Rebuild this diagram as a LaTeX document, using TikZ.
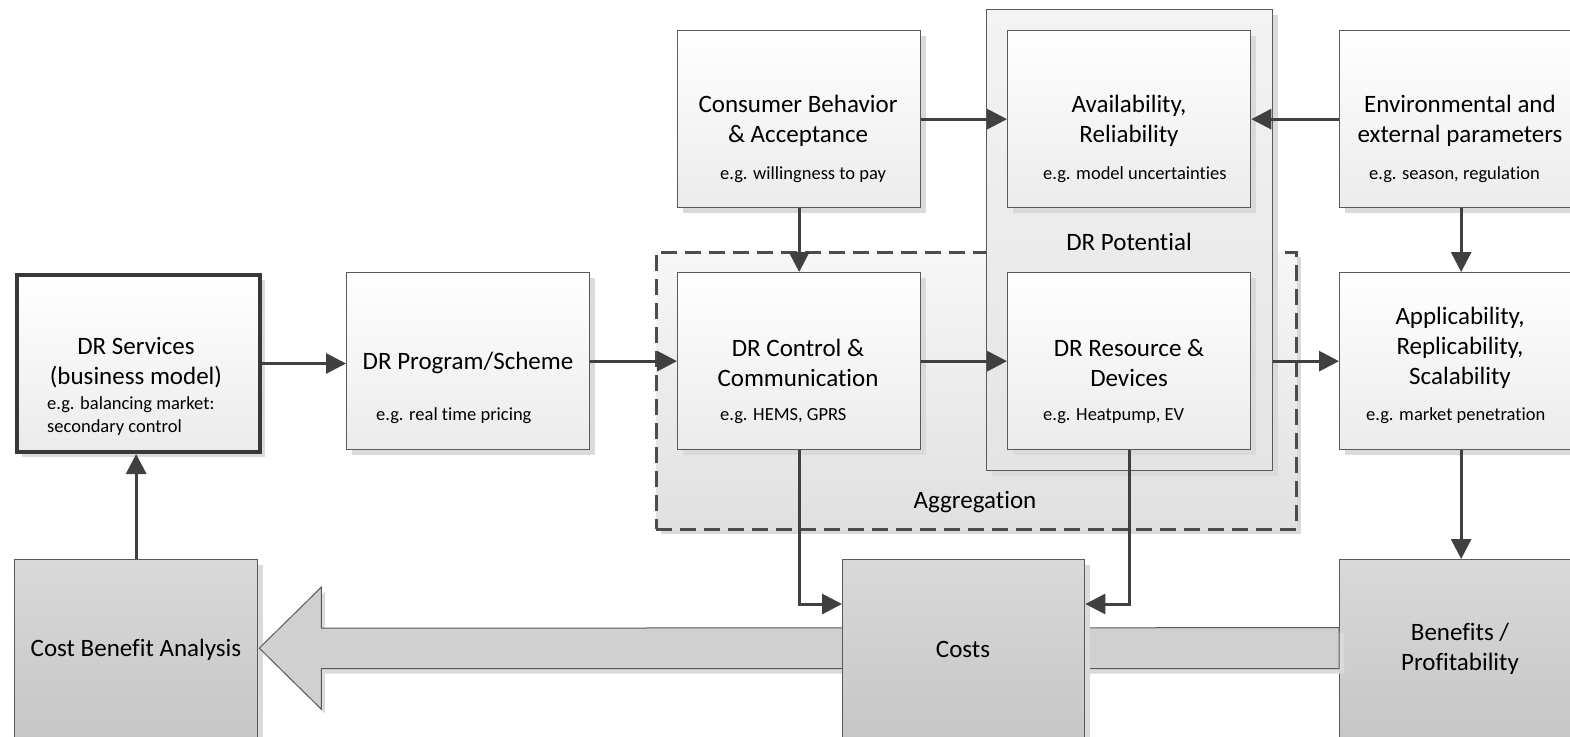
\documentclass[tikz,border=0pt]{standalone}
\usepackage{fontspec}
\setmainfont{Carlito}[Ligatures=NoCommon]
\usetikzlibrary{shadows,calc,arrows.meta}
\definecolor{bordc}{HTML}{5A5A5A}
\definecolor{arrc}{HTML}{404040}
\definecolor{boxbot}{HTML}{EBEBEB}
\definecolor{graytop}{HTML}{D9D9D9}
\definecolor{graybot}{HTML}{C6C6C6}
\definecolor{pottop}{HTML}{F3F3F3}
\definecolor{potbot}{HTML}{E4E4E4}
\definecolor{aggtop}{HTML}{F7F7F7}
\definecolor{aggbot}{HTML}{E0E0E0}
\definecolor{shadc}{HTML}{DADADA}
\definecolor{bigfill}{HTML}{D0D0D0}
\tikzset{
  shad/.style={drop shadow={shadow xshift=5pt,shadow yshift=-5pt,fill=shadc,opacity=1}},
  box/.style={draw=bordc,line width=1.3pt,top color=white,bottom color=boxbot,
    minimum width=243pt,minimum height=177pt,inner sep=0pt,anchor=north west,shad},
  graybox/.style={box,top color=graytop,bottom color=graybot,minimum height=181pt},
  arr/.style={draw=arrc,line width=3pt,-{Triangle[length=20pt,width=20pt]}},
  big/.style={font=\fontsize{25}{30}\selectfont,align=center,text=black,inner sep=0pt},
  small/.style={font=\fontsize{18.5}{23}\selectfont,align=left,text=black,inner sep=0pt,anchor=west},
}
\begin{document}
\begin{tikzpicture}[x=1pt,y=-1pt]
\clip (0,0) rectangle (1570,736);
\fill[white] (0,0) rectangle (1570,736);

% aggregation and potential groups
\node[draw=black!70,line width=2.5pt,dash pattern=on 16pt off 8pt,top color=aggtop,bottom color=aggbot,
  minimum width=640pt,minimum height=277pt,inner sep=0pt,anchor=north west,shad] (agg) at (655,251) {};
\node[draw=bordc,line width=1.3pt,top color=pottop,bottom color=potbot,
  minimum width=286pt,minimum height=461pt,inner sep=0pt,anchor=north west,shad] (pot) at (986,9) {};

% bottom row boxes
\node[graybox] (cba) at (14,559) {};
\node[graybox] (ben) at (1339,559) {};

% wide arrow from benefits and costs to the analysis
\fill[shadc] (263,652.5) -- (325,591.5) -- (325,632.5) -- (1344,632.5) -- (1344,673.5) -- (325,673.5) -- (325,713.5) -- cycle;
\filldraw[fill=bigfill,draw=bordc,line width=1pt] ($(cba.east)+(1,-2)$) coordinate (tip)
  -- ++(62,-61) -- ++(0,41) -- ($(ben.west |- tip)+(0,-20.5)$) -- ++(0,41)
  -- ($(tip)+(62,20.5)$) -- ++(0,40.5) -- cycle;

\node[graybox,minimum width=242pt] (costs) at (842,559) {};

% main boxes
\node[box,line width=4pt,draw=black!78,minimum width=243pt,minimum height=177pt] (svc) at (15,273) {};
\node[box] (prog) at (346,272) {};
\node[box] (ctrl) at (677,272) {};
\node[box] (res)  at (1007,272) {};
\node[box] (app)  at (1339,272) {};
\node[box] (cons) at (677,30) {};
\node[box] (avail) at (1007,30) {};
\node[box] (env)  at (1339,30) {};

% connectors
\draw[arr] (svc.east) -- (svc.east -| prog.west);
\draw[arr] (prog.east) -- (ctrl.west);
\draw[arr] (ctrl.east) -- (res.west);
\draw[arr] (pot.east |- res.east) -- (app.west);
\draw[arr] (cons.east) -- (avail.west);
\draw[arr] (env.west) -- (avail.east);
\draw[arr] (cons.south) -- (ctrl.north);
\draw[arr] (env.south) -- (app.north);
\draw[arr] (app.south) -- (ben.north);
\draw[arr] (cba.north) -- (cba.north |- svc.south);
\draw[arr] (ctrl.south) |- ($(costs.north west)+(0,45)$);
\draw[arr] (res.south) |- ($(costs.north east)+(0,45)$);

% labels
\node[big] (svcT) at (136,363) {DR Services\\(business model)};
\node[small] (svcS) at (47,416) {e.g. balancing market:\\secondary control};
\node[big] (progT) at (468,363) {DR Program/Scheme};
\node[small] (progS) at (376,416) {e.g. real time pricing};
\node[big] (ctrlT) at (798,363) {DR Control \&\\Communication};
\node[small] (ctrlS) at (720,416) {e.g. HEMS, GPRS};
\node[big] (resT) at (1129,363) {DR Resource \&\\Devices};
\node[small] (resS) at (1043,416) {e.g. Heatpump, EV};
\node[big] (appT) at (1460,348) {Applicability,\\Replicability,\\Scalability};
\node[small] (appS) at (1366,416) {e.g. market penetration};
\node[big] (consT) at (798,121) {Consumer Behavior\\\& Acceptance};
\node[small] (consS) at (720,174.5) {e.g. willingness to pay};
\node[big] (availT) at (1129,121) {Availability,\\Reliability};
\node[small] (availS) at (1043,174.5) {e.g. model uncertainties};
\node[big] (envT) at (1460,121) {Environmental and\\external parameters};
\node[small] (envS) at (1369,174.5) {e.g. season, regulation};
\node[big] (potT) at (1129,242) {DR Potential};
\node[big] (aggT) at (975,502) {Aggregation};
\node[big] (cbaT) at (136,649.5) {Cost Benefit Analysis};
\node[big] (costsT) at (963,649.5) {Costs};
\node[big] (benT) at (1460,649) {Benefits /\\Profitability};
\end{tikzpicture}
\end{document}
